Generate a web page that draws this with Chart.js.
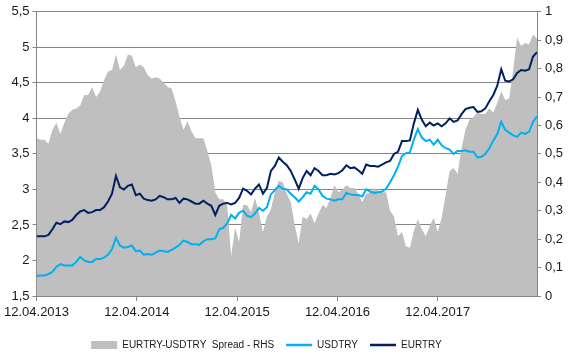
<!DOCTYPE html>
<html>
<head>
<meta charset="utf-8">
<script src="https://cdn.jsdelivr.net/npm/chart.js@4.4.1/dist/chart.umd.min.js"></script>
<style>
  html, body { margin: 0; padding: 0; background: #fff; }
</style>
</head>
<body>
<canvas id="spreadChart" width="569" height="354"></canvas>
<script>
// x axis: one point roughly every two weeks, starting 12.04.2013
const tickLabels = ['12.04.2013', '12.04.2014', '12.04.2015', '12.04.2016', '12.04.2017'];
const pointsPerYear = 25.25;

// EURTRY - USDTRY spread (right axis)
const spread = [
  0.556, 0.55, 0.55, 0.536, 0.585, 0.61, 0.57, 0.61, 0.64, 0.655,
  0.66, 0.67, 0.707, 0.707, 0.735, 0.70, 0.72, 0.76, 0.79, 0.795,
  0.85, 0.795, 0.81, 0.85, 0.845, 0.805, 0.815, 0.805, 0.777, 0.765,
  0.77, 0.765, 0.75, 0.735, 0.73, 0.685, 0.63, 0.585, 0.615, 0.58,
  0.555, 0.555, 0.555, 0.51, 0.46, 0.365, 0.34, 0.34, 0.32, 0.14,
  0.24, 0.19, 0.32, 0.32, 0.295, 0.345, 0.295, 0.225, 0.28, 0.305,
  0.365, 0.405, 0.40, 0.36, 0.33, 0.25, 0.185, 0.28, 0.27, 0.29,
  0.255, 0.29, 0.32, 0.31, 0.345, 0.39, 0.365, 0.375, 0.39, 0.38,
  0.38, 0.36, 0.33, 0.36, 0.365, 0.38, 0.37, 0.365, 0.365, 0.30,
  0.28, 0.21, 0.225, 0.175, 0.17, 0.23, 0.27, 0.235, 0.21, 0.245,
  0.275, 0.225, 0.275, 0.355, 0.44, 0.45, 0.43, 0.52, 0.585, 0.62,
  0.63, 0.645, 0.64, 0.64, 0.66, 0.645, 0.68, 0.72, 0.69, 0.695,
  0.795, 0.91, 0.88, 0.89, 0.885, 0.92, 0.905,
];

const usdtry = [
  1.78, 1.79, 1.79, 1.81, 1.84, 1.91, 1.95, 1.93, 1.93, 1.93,
  1.98, 2.05, 2.00, 1.98, 1.98, 2.02, 2.02, 2.04, 2.08, 2.16,
  2.32, 2.21, 2.18, 2.19, 2.21, 2.13, 2.14, 2.08, 2.09, 2.08,
  2.11, 2.14, 2.13, 2.12, 2.15, 2.18, 2.22, 2.28, 2.26, 2.23,
  2.23, 2.22, 2.27, 2.30, 2.30, 2.31, 2.44, 2.46, 2.52, 2.64,
  2.59, 2.67, 2.70, 2.63, 2.61, 2.66, 2.74, 2.70, 2.75, 2.93,
  2.99, 3.05, 3.01, 3.00, 2.94, 2.89, 2.83, 2.89, 2.96, 2.94,
  3.05, 3.00, 2.91, 2.87, 2.86, 2.84, 2.86, 2.86, 2.95, 2.93,
  2.92, 2.92, 2.90, 3.00, 2.97, 2.95, 2.96, 2.97, 3.01, 3.10,
  3.20, 3.32, 3.47, 3.51, 3.52, 3.70, 3.85, 3.73, 3.68, 3.70,
  3.63, 3.70, 3.62, 3.58, 3.56, 3.50, 3.54, 3.54, 3.55, 3.53,
  3.53, 3.45, 3.46, 3.50, 3.58, 3.69, 3.78, 3.95, 3.84, 3.80,
  3.76, 3.74, 3.80, 3.78, 3.81, 3.95, 4.03,
];

const eurtry = [
  2.34, 2.34, 2.34, 2.36, 2.44, 2.53, 2.51, 2.55, 2.54, 2.57,
  2.64, 2.69, 2.71, 2.67, 2.68, 2.71, 2.71, 2.75, 2.83, 2.94,
  3.19, 3.03, 3.00, 3.05, 3.07, 2.92, 2.94, 2.87, 2.85, 2.84,
  2.86, 2.91, 2.89, 2.86, 2.86, 2.88, 2.81, 2.87, 2.86, 2.83,
  2.80, 2.80, 2.84, 2.80, 2.77, 2.64, 2.77, 2.80, 2.81, 2.79,
  2.81, 2.88, 3.01, 2.98, 2.93, 3.01, 3.07, 2.94, 3.02, 3.26,
  3.33, 3.45, 3.39, 3.34, 3.26, 3.14, 3.01, 3.16, 3.26, 3.20,
  3.30, 3.26, 3.20, 3.20, 3.22, 3.21, 3.23, 3.27, 3.34, 3.30,
  3.31, 3.27, 3.22, 3.35, 3.33, 3.33, 3.32, 3.35, 3.38, 3.40,
  3.50, 3.53, 3.68, 3.68, 3.69, 3.93, 4.12, 3.98, 3.89, 3.94,
  3.90, 3.93, 3.89, 3.93, 4.00, 3.95, 3.97, 4.06, 4.13, 4.15,
  4.16, 4.09, 4.10, 4.14, 4.24, 4.33, 4.46, 4.69, 4.53, 4.52,
  4.55, 4.64, 4.68, 4.67, 4.69, 4.87, 4.93,
];

const gridColor = '#868686';
const commaNum = (v) => String(Math.round(v * 10) / 10).replace('.', ',');

Chart.defaults.font.family = "'Liberation Sans', Arial, sans-serif";
Chart.defaults.font.size = 13;
Chart.defaults.color = '#1a1a1a';

// nudge the legend to where Excel put it
const legendNudge = {
  id: 'legendNudge',
  afterLayout(chart) {
    const lg = chart.legend;
    if (!lg) return;
    lg.left -= 18;
    lg.right -= 18;
    lg.top += 6;
    lg.bottom += 6;
  },
};

const ctx = document.getElementById('spreadChart');
// eslint-disable-next-line no-unused-vars,no-undef
const spreadChart = new Chart(ctx, {
  type: 'line',
  data: {
    labels: spread.map((e, i) => i),
    datasets: [
      {
        label: 'EURTRY-USDTRY  Spread - RHS',
        data: spread,
        yAxisID: 'y1',
        fill: 'origin',
        backgroundColor: '#bfbfbf',
        borderColor: '#bfbfbf',
        borderWidth: 0,
        pointRadius: 0,
        tension: 0,
        order: 3,
      },
      {
        label: 'USDTRY',
        data: usdtry,
        yAxisID: 'y',
        borderColor: '#00b0f0',
        backgroundColor: '#00b0f0',
        borderWidth: 2,
        pointRadius: 0,
        tension: 0,
        fill: false,
        order: 2,
      },
      {
        label: 'EURTRY',
        data: eurtry,
        yAxisID: 'y',
        borderColor: '#002060',
        backgroundColor: '#002060',
        borderWidth: 2,
        pointRadius: 0,
        tension: 0,
        fill: false,
        order: 1,
      },
    ],
  },
  options: {
    responsive: false,
    animation: false,
    devicePixelRatio: 1,
    layout: { padding: { top: 9, left: 0, right: 0, bottom: 0 } },
    plugins: {
      tooltip: { enabled: false },
      legend: {
        position: 'bottom',
        labels: {
          font: { size: 10 },
          usePointStyle: true,
          pointStyleWidth: 26,
          boxWidth: 26,
          boxHeight: 8,
          padding: 12,
          generateLabels: (chart) => chart.data.datasets.map((ds, i) => ({
            text: ds.label,
            datasetIndex: i,
            fillStyle: ds.backgroundColor,
            strokeStyle: ds.borderColor,
            lineWidth: i === 0 ? 0 : 2.5,
            pointStyle: i === 0 ? 'rect' : 'line',
            hidden: false,
            fontColor: '#1a1a1a',
          })),
        },
      },
    },
    scales: {
      x: {
        type: 'linear',
        min: 0,
        max: spread.length - 1,
        afterBuildTicks: (scale) => {
          scale.ticks = tickLabels.map((t, k) => ({ value: k * pointsPerYear }));
        },
        afterFit: (scale) => { scale.height = 26; },
        ticks: {
          autoSkip: false,
          maxRotation: 0,
          padding: 4,
          callback: (v, idx) => tickLabels[idx],
        },
        grid: { drawOnChartArea: false, drawTicks: true, tickLength: 5, color: gridColor },
        border: { display: true, color: gridColor },
      },
      y: {
        position: 'left',
        min: 1.5,
        max: 5.5,
        afterFit: (scale) => { scale.width = 33; },
        ticks: { stepSize: 0.5, padding: 3, callback: (v) => commaNum(v) },
        grid: { color: gridColor, tickLength: 4, drawTicks: true },
        border: { display: true, color: gridColor },
      },
      y1: {
        position: 'right',
        min: 0,
        max: 1,
        afterFit: (scale) => { scale.width = 32; },
        ticks: { stepSize: 0.1, padding: 4, callback: (v) => commaNum(v) },
        grid: { drawOnChartArea: false, tickLength: 4, color: gridColor },
        border: { display: true, color: gridColor },
      },
    },
  },
  plugins: [legendNudge],
});
</script>
</body>
</html>
